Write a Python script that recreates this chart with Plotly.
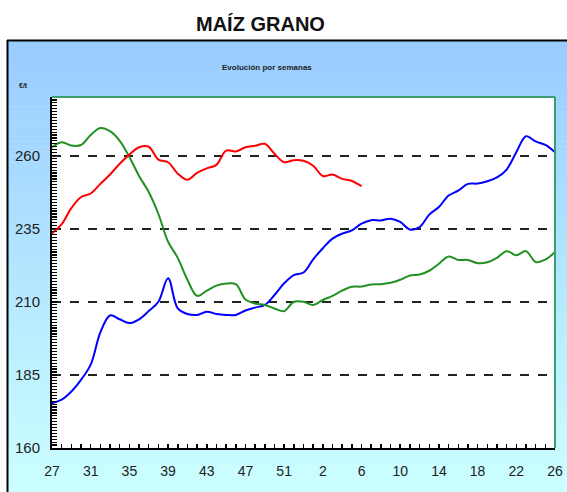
import plotly.graph_objects as go

# ---------------- data ----------------
week_labels = [str(w) for w in range(27, 54)] + [str(w) for w in range(1, 27)]
x_index = list(range(len(week_labels)))

serie_roja = [233.3, 236.5, 242.0, 245.8, 247.0, 250.3, 253.5, 257.2, 260.3, 262.8,
              263.0, 258.6, 257.7, 253.8, 251.7, 254.1, 255.6, 256.8, 261.7, 261.4,
              262.8, 263.3, 264.0, 260.6, 257.7, 258.4, 258.2, 256.5, 253.0, 253.5,
              252.0, 251.3, 249.5]

serie_verde = [262.8, 264.5, 263.4, 263.6, 267.0, 269.4, 268.3, 265.0, 259.5, 253.0,
               247.5, 240.0, 230.5, 225.0, 217.5, 212.0, 213.8, 215.5, 216.2, 216.0,
               210.8, 209.4, 208.9, 207.7, 206.8, 210.0, 210.0, 208.9, 210.6, 212.0,
               213.8, 215.1, 215.2, 215.9, 216.0, 216.5, 217.5, 219.0, 219.3, 220.6,
               223.0, 225.5, 224.3, 224.3, 223.2, 223.5, 225.0, 227.3, 225.9, 227.3,
               223.6, 224.4, 227.0]

serie_azul = [175.3, 176.5, 179.3, 183.3, 188.5, 199.5, 205.3, 204.0, 202.7, 204.0,
              206.8, 210.0, 218.0, 207.7, 205.8, 205.5, 206.6, 205.8, 205.5, 205.5,
              207.0, 208.0, 208.9, 212.3, 216.3, 219.1, 220.0, 224.5, 228.3, 231.6,
              233.3, 234.4, 236.7, 237.9, 237.8, 238.4, 237.3, 234.7, 235.5, 239.8,
              242.4, 246.3, 248.0, 250.3, 250.4, 251.2, 252.5, 255.2, 261.1, 266.6,
              264.8, 263.6, 261.1]

y_tick_values = [160, 185, 210, 235, 260]
x_tick_positions = x_index[::4]
x_tick_labels = week_labels[::4]

# ---------------- geometry helpers (pixel -> paper) ----------------
W, H = 567, 492
L, R, T, B = 52, 12, 97, 44
PW, PH = W - L - R, H - T - B


def px(x):
    return (x - L) / PW


def py(y):
    return (H - B - y) / PH


FONT = "Arial, Liberation Sans, sans-serif"

fig = go.Figure()

for vals, col in [(serie_azul, "#0000FF"), (serie_verde, "#229122"), (serie_roja, "#FF0000")]:
    fig.add_trace(go.Scatter(
        x=x_index[:len(vals)], y=vals, mode="lines",
        line=dict(color=col, width=2, shape="spline", smoothing=1.0),
        hoverinfo="skip", showlegend=False))

# ---------------- background gradient frame ----------------
shapes = []
top_c = (153, 204, 255)
bot_c = (204, 255, 255)
y0f, y1f = 41, 492
n = 90
for k in range(n):
    ya = y0f + (y1f - y0f) * k / n
    yb = y0f + (y1f - y0f) * (k + 1) / n + 0.6
    t = k / (n - 1)
    c = tuple(round(top_c[i] + (bot_c[i] - top_c[i]) * t) for i in range(3))
    shapes.append(dict(type="rect", xref="paper", yref="paper", layer="below",
                       x0=px(8), x1=px(W + 5), y0=py(yb), y1=py(ya),
                       fillcolor="rgb(%d,%d,%d)" % c, line=dict(width=0)))
# white plot area
shapes.append(dict(type="rect", xref="paper", yref="paper", layer="below",
                   x0=0, x1=1, y0=0, y1=1, fillcolor="white", line=dict(width=0)))
# black frame (left + top)
shapes.append(dict(type="line", xref="paper", yref="paper", layer="above",
                   x0=px(7.5), x1=px(7.5), y0=py(40), y1=py(H + 5), line=dict(color="black", width=2)))
shapes.append(dict(type="line", xref="paper", yref="paper", layer="above",
                   x0=px(7), x1=px(W + 5), y0=py(40.5), y1=py(40.5), line=dict(color="black", width=2)))
# green plot border (top + right)
shapes.append(dict(type="line", xref="paper", yref="paper", layer="above",
                   x0=0, x1=1, y0=1, y1=1, line=dict(color="#3A9E6E", width=2)))
shapes.append(dict(type="line", xref="paper", yref="paper", layer="above",
                   x0=1, x1=1, y0=0, y1=1, line=dict(color="#3A9E6E", width=2)))

annotations = [
    dict(text="<b>MAÍZ GRANO</b>", x=px(260), y=py(24), xref="paper", yref="paper",
         showarrow=False, xanchor="center", yanchor="middle",
         font=dict(family=FONT, size=20, color="#111111")),
    dict(text="<b>Evolución por semanas</b>", x=px(267), y=py(67), xref="paper", yref="paper",
         showarrow=False, xanchor="center", yanchor="middle",
         font=dict(family=FONT, size=8, color="#222222")),
    dict(text="<b>€/t</b>", x=px(23), y=py(86), xref="paper", yref="paper",
         showarrow=False, xanchor="center", yanchor="middle",
         font=dict(family=FONT, size=7, color="#222222")),
]

fig.update_layout(
    width=W, height=H, autosize=False,
    margin=dict(l=L, r=R, t=T, b=B, pad=0, autoexpand=False),
    paper_bgcolor="white", plot_bgcolor="rgba(0,0,0,0)",
    shapes=shapes, annotations=annotations,
    showlegend=False,
    xaxis=dict(range=[0, 52], tickvals=x_tick_positions, ticktext=x_tick_labels,
               showgrid=False, zeroline=False, automargin=False,
               showline=True, linecolor="black", linewidth=2,
               ticks="inside", ticklen=4, tickwidth=1.5, tickcolor="black",
               minor=dict(dtick=1, tick0=0, ticks="inside", ticklen=4, tickwidth=1.5,
                          tickcolor="black", showgrid=False),
               ticklabelstandoff=9,
               tickfont=dict(family=FONT, size=14, color="#222222")),
    yaxis=dict(range=[160, 280], tickvals=y_tick_values,
               showgrid=True, gridcolor="#222222", gridwidth=2, griddash="dash",
               zeroline=False, automargin=False,
               showline=True, linecolor="black", linewidth=2,
               ticks="inside", ticklen=5, tickwidth=1.5, tickcolor="black",
               minor=dict(dtick=1, tick0=160, ticks="inside", ticklen=5, tickwidth=1.2,
                          tickcolor="black", showgrid=False),
               ticklabelstandoff=7,
               tickfont=dict(family=FONT, size=15, color="#222222")),
)

fig.write_html(
    "out.html",
    config={"displayModeBar": False, "responsive": False, "staticPlot": True},
    post_script=("document.body.style.margin='0px';document.body.style.padding='0px';"
                 "document.documentElement.style.overflow='hidden';"
                 "document.body.style.overflow='hidden';"),
)
